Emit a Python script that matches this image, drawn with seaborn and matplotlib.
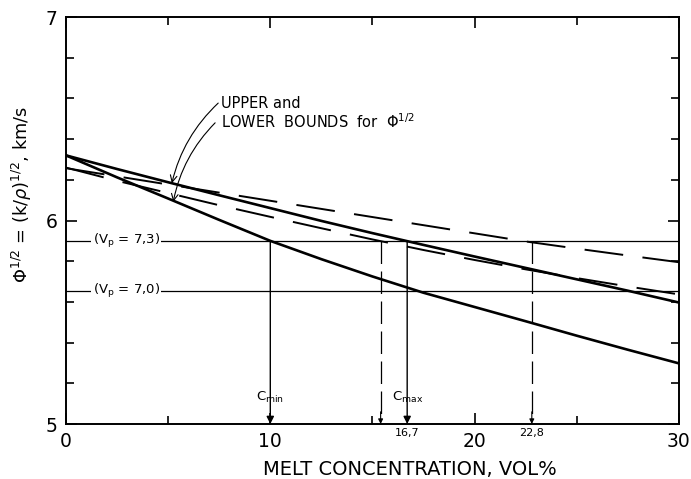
import matplotlib
matplotlib.use('Agg')
import matplotlib.pyplot as plt
import seaborn as sns
import pandas as pd

# melt concentration (vol%) where the curves were read
conc = [0, 2.5, 5, 7.5, 10, 12.5, 15, 17.5, 20, 22.5, 25, 27.5, 30]

# solid curves: upper and lower bounds (first case)
upper_solid = [6.320, 6.253, 6.188, 6.124, 6.061, 5.998, 5.938, 5.880, 5.823, 5.767, 5.711, 5.655, 5.597]
lower_solid = [6.320, 6.212, 6.108, 6.003, 5.900, 5.810, 5.725, 5.645, 5.575, 5.505, 5.434, 5.365, 5.298]

# dashed curves: upper and lower bounds (second case)
upper_dashed = [6.257, 6.217, 6.177, 6.137, 6.097, 6.057, 6.017, 5.977, 5.937, 5.897, 5.862, 5.828, 5.795]
lower_dashed = [6.260, 6.195, 6.135, 6.075, 6.018, 5.962, 5.907, 5.855, 5.806, 5.760, 5.717, 5.676, 5.637]

# reference levels
vp_levels = [5.90, 5.655]
vp_labels = ['(V$_\\mathrm{p}$ = 7,3)', '(V$_\\mathrm{p}$ = 7,0)']

# crossing concentrations with the Vp = 7,3 level
solid_cross = [10.0, 16.7]
dashed_cross = [15.4, 22.8]

df = pd.DataFrame({
    'conc': conc * 4,
    'phi': upper_solid + lower_solid + upper_dashed + lower_dashed,
    'curve': ['us'] * len(conc) + ['ls'] * len(conc) + ['ud'] * len(conc) + ['ld'] * len(conc),
})

sns.set_theme(style='ticks')
plt.rcParams['font.family'] = ['DejaVu Sans']
plt.rcParams['mathtext.fontset'] = 'dejavusans'
for key in ['text.color', 'axes.labelcolor', 'xtick.color', 'ytick.color', 'axes.edgecolor']:
    plt.rcParams[key] = 'black'

fig = plt.figure(figsize=(6.91, 4.79), dpi=100)
ax = fig.add_axes([0.0955, 0.1148, 0.887, 0.8497])

for name in ['us', 'ls']:
    sns.lineplot(data=df[df['curve'] == name], x='conc', y='phi', color='black',
                 lw=1.9, ax=ax, legend=False)
for name in ['ud', 'ld']:
    sns.lineplot(data=df[df['curve'] == name], x='conc', y='phi', color='black',
                 lw=1.4, linestyle=(0, (20, 10)), ax=ax, legend=False)

# Vp reference lines with labels
for level, label in zip(vp_levels, vp_labels):
    ax.axhline(level, color='black', lw=0.9, zorder=1)
    ax.text(2.95, level, label, ha='center', va='center', fontsize=9.5,
            bbox=dict(facecolor='white', edgecolor='none', pad=1.0), zorder=3)

# vertical drops to the concentration axis
for xc in solid_cross:
    ax.annotate('', xy=(xc, 5.0), xytext=(xc, vp_levels[0]),
                arrowprops=dict(arrowstyle='-|>', color='black', lw=1.0,
                                mutation_scale=11, shrinkA=0, shrinkB=0))
for xc in dashed_cross:
    ax.plot([xc, xc], [vp_levels[0], 5.05], color='black', lw=0.9,
            linestyle=(0, (18, 6)))
    ax.annotate('', xy=(xc, 5.0), xytext=(xc, 5.06),
                arrowprops=dict(arrowstyle='-|>', color='black', lw=0.8,
                                mutation_scale=7, shrinkA=0, shrinkB=0))

ax.text(10.0, 5.13, 'C$_\\mathrm{min}$', ha='center', va='center', fontsize=9.5)
ax.text(16.7, 5.13, 'C$_\\mathrm{max}$', ha='center', va='center', fontsize=9.5)
ax.text(16.7, 4.955, '16,7', ha='center', va='center', fontsize=8)
ax.text(22.8, 4.955, '22,8', ha='center', va='center', fontsize=8)

# bounds annotation
ax.text(7.6, 6.577, 'UPPER and', ha='left', va='center', fontsize=10.5)
ax.text(7.6, 6.485, 'LOWER  BOUNDS  for  $\\Phi^{1/2}$', ha='left', va='center', fontsize=10.5)
ax.annotate('', xy=(5.18, 6.183), xytext=(7.45, 6.577),
            arrowprops=dict(arrowstyle='->', color='black', lw=0.8,
                            connectionstyle='arc3,rad=0.15', shrinkA=0, shrinkB=0))
ax.annotate('', xy=(5.25, 6.092), xytext=(7.3, 6.48),
            arrowprops=dict(arrowstyle='->', color='black', lw=0.8,
                            connectionstyle='arc3,rad=0.15', shrinkA=0, shrinkB=0))

ax.set_xlim(0, 30)
ax.set_ylim(5, 7)
ax.set_xticks([0, 10, 20, 30])
ax.set_xticks([5, 15, 25], minor=True)
ax.set_yticks([5, 6, 7])
ax.set_yticks([5.2, 5.4, 5.6, 5.8, 6.2, 6.4, 6.6, 6.8], minor=True)
ax.tick_params(which='both', direction='in', top=True, right=True,
               labelsize=13.5, width=1.2, pad=6)
ax.tick_params(which='major', length=8)
ax.tick_params(which='minor', length=6)
for side in ax.spines.values():
    side.set_linewidth(1.4)

ax.set_xlabel('MELT CONCENTRATION, VOL%', fontsize=14)
ax.xaxis.set_label_coords(0.561, -0.088)
ax.set_ylabel('$\\Phi^{1/2}$ = $(\\mathrm{k}/\\rho)^{1/2}$, km/s', fontsize=12.8)
ax.yaxis.set_label_coords(-0.052, 0.563)

fig.savefig('out.png', dpi=100)
